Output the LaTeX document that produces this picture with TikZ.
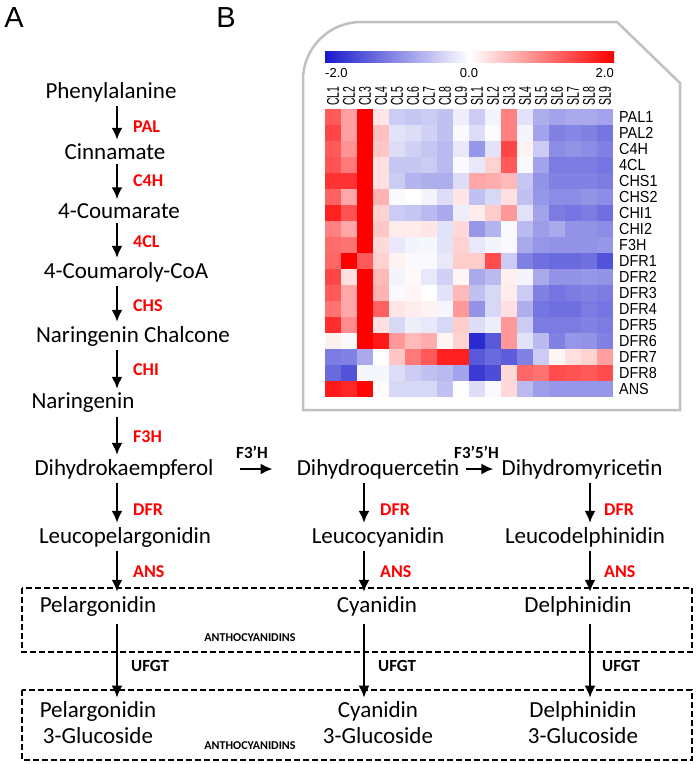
\documentclass[tikz,border=0pt]{standalone}
\usepackage{fontspec}
\setmainfont{Carlito}
\newfontfamily\arialfont{Liberation Sans}
\usepackage{graphicx}
\usetikzlibrary{arrows.meta}
\definecolor{hblue}{RGB}{25,25,205}
\definecolor{hred}{RGB}{255,0,0}
\definecolor{panelgray}{RGB}{192,192,192}

\begin{document}
\begin{tikzpicture}[x=1pt,y=-1pt,
  met/.style={font=\fontsize{23}{26}\selectfont, inner sep=4pt},
  enz/.style={font=\bfseries\fontsize{18}{20}\selectfont, text=hred, anchor=west, inner sep=0pt},
  enzk/.style={font=\bfseries\fontsize{17}{20}\selectfont, anchor=west, inner sep=0pt},
  arr/.style={-{Latex[length=12pt,width=11pt]}, line width=2.4pt},
  grp/.style={line width=1.6pt, dash pattern=on 6pt off 3pt},
  grplab/.style={font=\bfseries\fontsize{12}{14}\selectfont, inner sep=0pt},
  panel/.style={draw=panelgray, line width=2.5pt},
  rowlab/.style={font=\arialfont\fontsize{16}{16}\selectfont, anchor=west, inner sep=0pt},
  collab/.style={font=\arialfont\fontsize{17}{18}\selectfont, rotate=90, anchor=west, inner sep=0pt},
  barlab/.style={font=\arialfont\fontsize{13}{14}\selectfont, inner sep=0pt},
  tag/.style={font=\arialfont\fontsize{29}{30}\selectfont, inner sep=0pt}]
\useasboundingbox (0,0) rectangle (697,764);

% panel letters
\node[tag] (tagA) at (14,18) {A};
\node[tag] (tagB) at (226,18) {B};

% ---------- pathway ----------
\coordinate (colA) at (117,0);
\coordinate (colB) at (364,0);
\coordinate (colC) at (590,0);

\node[met] (phe) at (111,92) {Phenylalanine};
\node[met] (cin) at (115,152) {Cinnamate};
\node[met] (cou) at (119,211) {4-Coumarate};
\node[met] (coa) at (126,272) {4-Coumaroly-CoA};
\node[met] (chal) at (133,336) {Naringenin Chalcone};
\node[met] (nar) at (83,403) {Naringenin};
\node[met] (dhk) at (124,469) {Dihydrokaempferol};
\node[met] (dhq) at (378,469) {Dihydroquercetin};
\node[met] (dhm) at (582,469) {Dihydromyricetin};
\node[met] (lpg) at (125,537) {Leucopelargonidin};
\node[met] (lcy) at (378,537) {Leucocyanidin};
\node[met] (ldp) at (585,537) {Leucodelphinidin};
\node[met] (pel) at (98,606) {Pelargonidin};
\node[met] (cya) at (377,606) {Cyanidin};
\node[met] (del) at (578,606) {Delphinidin};
\node[met,align=center] (pelg) at (98,723) {Pelargonidin\\3-Glucoside};
\node[met,align=center] (cyag) at (378,723) {Cyanidin\\3-Glucoside};
\node[met,align=center] (delg) at (583,723) {Delphinidin\\3-Glucoside};

\draw[arr] (phe.south -| colA) -- (cin.north -| colA);
\draw[arr] (cin.south -| colA) -- (cou.north -| colA);
\draw[arr] (cou.south -| colA) -- (coa.north -| colA);
\draw[arr] (coa.south -| colA) -- (chal.north -| colA);
\draw[arr] (chal.south -| colA) -- (nar.north -| colA);
\draw[arr] (nar.south -| colA) -- (dhk.north -| colA);
\draw[arr] (dhk.south -| colA) -- (lpg.north -| colA);
\draw[arr] (dhq.south -| colB) -- (lcy.north -| colB);
\draw[arr] (dhm.south -| colC) -- (ldp.north -| colC);
\draw[arr] (lpg.south -| colA) -- (pel.north -| colA);
\draw[arr] (lcy.south -| colB) -- (cya.north -| colB);
\draw[arr] (ldp.south -| colC) -- (del.north -| colC);
\draw[arr,shorten <=4pt] (pel.south -| colA) -- (pelg.north -| colA);
\draw[arr,shorten <=4pt] (cya.south -| colB) -- (cyag.north -| colB);
\draw[arr,shorten <=4pt] (del.south -| colC) -- (delg.north -| colC);
\draw[arr,shorten <=22pt,shorten >=20pt] (dhk.east) -- (dhq.west);
\draw[arr,shorten <=3pt,shorten >=4pt] (dhq.east) -- (dhm.west);

\node[enz] (pal) at (133,127) {PAL};
\node[enz] (c4h) at (133,181) {C4H};
\node[enz] (fcl) at (133,242) {4CL};
\node[enz] (chs) at (133,306) {CHS};
\node[enz] (chi) at (133,370) {CHI};
\node[enz] (f3h) at (133,437) {F3H};
\node[enz] (dfrA) at (133,510) {DFR};
\node[enz] (dfrB) at (380,510) {DFR};
\node[enz] (dfrC) at (604,510) {DFR};
\node[enz] (ansA) at (133,572) {ANS};
\node[enz] (ansB) at (380,572) {ANS};
\node[enz] (ansC) at (604,572) {ANS};
\node[enzk] (f3ph) at (236,452) {F3'H};
\node[enzk] (f35h) at (454,452) {F3'5'H};
\node[enzk] (ufgtA) at (131,666) {UFGT};
\node[enzk] (ufgtB) at (378,666) {UFGT};
\node[enzk] (ufgtC) at (602,666) {UFGT};

% anthocyanidin boxes
\draw[grp] (22,588) rectangle (692,652);
\draw[grp] (22,690) rectangle (692,760);
\node[grplab] (antA) at (250,638) {ANTHOCYANIDINS};
\node[grplab] (antB) at (250,746) {ANTHOCYANIDINS};

% ---------- heat map ----------
\draw[panel] (303,410) -- (303,80) arc[start angle=180, end angle=270, radius=58]
  -- (617,22) -- (680,83) -- (680,410) -- cycle;

\shade[left color=hblue, right color=white] (325,51) rectangle (469.5,62);
\shade[left color=white, right color=hred] (469.5,51) rectangle (614,62);
\node[barlab,anchor=west] (bmin) at (325,73) {-2.0};
\node[barlab] (bmid) at (469,73) {0.0};
\node[barlab,anchor=east] (bmax) at (614,73) {2.0};

\foreach \g [count=\c from 0] in {CL1,CL2,CL3,CL4,CL5,CL6,CL7,CL8,CL9,SL1,SL2,SL3,SL4,SL5,SL6,SL7,SL8,SL9}
  \node[collab] (c\c) at (333+16*\c,106) {\scalebox{0.62}[1]{\g}};

\foreach \g [count=\r from 0] in {PAL1,PAL2,C4H,4CL,CHS1,CHS2,CHI1,CHI2,F3H,DFR1,DFR2,DFR3,DFR4,DFR5,DFR6,DFR7,DFR8,ANS}
  \node[rowlab] (g\r) at (619,117+16*\r) {\scalebox{0.9}[1]{\g}};

\foreach \vals [count=\r from 0] in {
  {1.3,0.75,2,0.2,-0.45,-0.5,-0.45,-0.55,-0.15,-0.45,-0.1,1.0,-0.25,-0.7,-0.8,-0.75,-0.75,-0.8},
  {1.45,0.75,2,0.5,-0.25,-0.3,-0.4,-0.55,-0.05,-0.3,-0.03,1.0,-0.1,-0.8,-1.1,-1.05,-1.1,-1.2},
  {1.3,0.85,2,0.45,-0.3,-0.4,-0.5,-0.6,-0.2,-0.9,-0.25,1.45,0.1,-0.45,-1.0,-0.95,-1.0,-1.1},
  {1.35,1.05,2,0.25,-0.5,-0.5,-0.45,-0.6,-0.05,-0.2,0.35,1.3,-0.05,-0.8,-1.15,-1.15,-1.15,-1.2},
  {1.6,1.6,2,0.25,-0.45,-0.65,-0.7,-0.7,-0.3,0.7,0.65,0.55,-0.5,-0.95,-1.1,-1.1,-1.1,-1.15},
  {1.25,0.7,2,0.6,-0.05,0,-0.1,-0.3,0.2,-0.55,-0.35,0.25,-0.55,-0.9,-1.0,-1.0,-0.95,-1.0},
  {1.75,1.35,2,0.35,-0.45,-0.5,-0.6,-0.75,-0.15,0.15,0.4,0.8,-0.25,-0.8,-1.15,-1.2,-1.15,-1.25},
  {1.0,0.7,2,0.45,0.15,0.15,0.2,-0.25,0.3,-0.9,-0.65,-0.05,-0.6,-0.85,-0.75,-0.95,-0.95,-1.0},
  {1.15,1.1,2,0.3,-0.2,-0.1,-0.08,-0.25,0.35,-0.2,-0.1,-0.05,-0.75,-0.9,-0.95,-0.95,-0.95,-0.9},
  {1.2,2,1.3,0.35,0.1,-0.05,-0.05,-0.2,0.4,0.4,1.4,-0.45,-1.1,-1.25,-1.3,-1.3,-1.25,-1.5},
  {1.45,0.25,2,0.55,-0.1,0.05,-0.2,-0.4,0.08,-0.75,-0.6,0.12,-0.1,-0.75,-0.95,-0.95,-0.9,-0.95},
  {1.3,0.7,2,0.6,-0.05,0.08,0,-0.25,0.55,-0.55,-0.35,0.15,-0.45,-1.1,-1.2,-1.15,-1.1,-1.15},
  {1.1,0.7,2,1.25,0.2,0.15,0.1,-0.08,0.8,-0.95,-0.35,0.25,-0.7,-1.2,-1.25,-1.25,-1.15,-1.2},
  {1.65,0.9,2,0.25,-0.35,-0.15,-0.2,-0.35,0.4,-0.3,-0.15,0.8,-0.45,-1.15,-1.15,-1.15,-1.1,-1.15},
  {0.12,-0.05,2,1.8,0.8,0.55,0.65,0.08,0.35,-1.85,-1.45,0.8,-0.25,-0.6,-1.1,-0.9,-0.95,-1.1},
  {-1.15,-1.1,-0.75,0,0.45,1.05,1.3,1.75,1.75,-1.45,-1.3,-1.4,-1.1,-0.45,0.08,0.25,0.35,0.75},
  {-1.3,-1.5,-0.08,-0.08,-0.3,-0.45,-0.55,-0.6,-0.8,-1.7,-1.55,0.3,1.2,1.1,1.4,1.35,1.3,1.4},
  {1.8,1.7,1.95,0.03,-0.35,-0.35,-0.35,-0.55,0,-0.3,-0.05,0.3,-0.6,-0.85,-0.9,-0.9,-0.9,-0.9}}
{
  \foreach \v [count=\c from 0] in \vals {
    \pgfmathsetmacro\pct{min(100,abs(\v)*50)}
    \ifdim \v pt<0pt \def\hue{hblue}\else\def\hue{hred}\fi
    \fill[\hue!\pct!white] (325+16*\c,109+16*\r) rectangle ++(16.3,16.3);
  }
}
\end{tikzpicture}
\end{document}
